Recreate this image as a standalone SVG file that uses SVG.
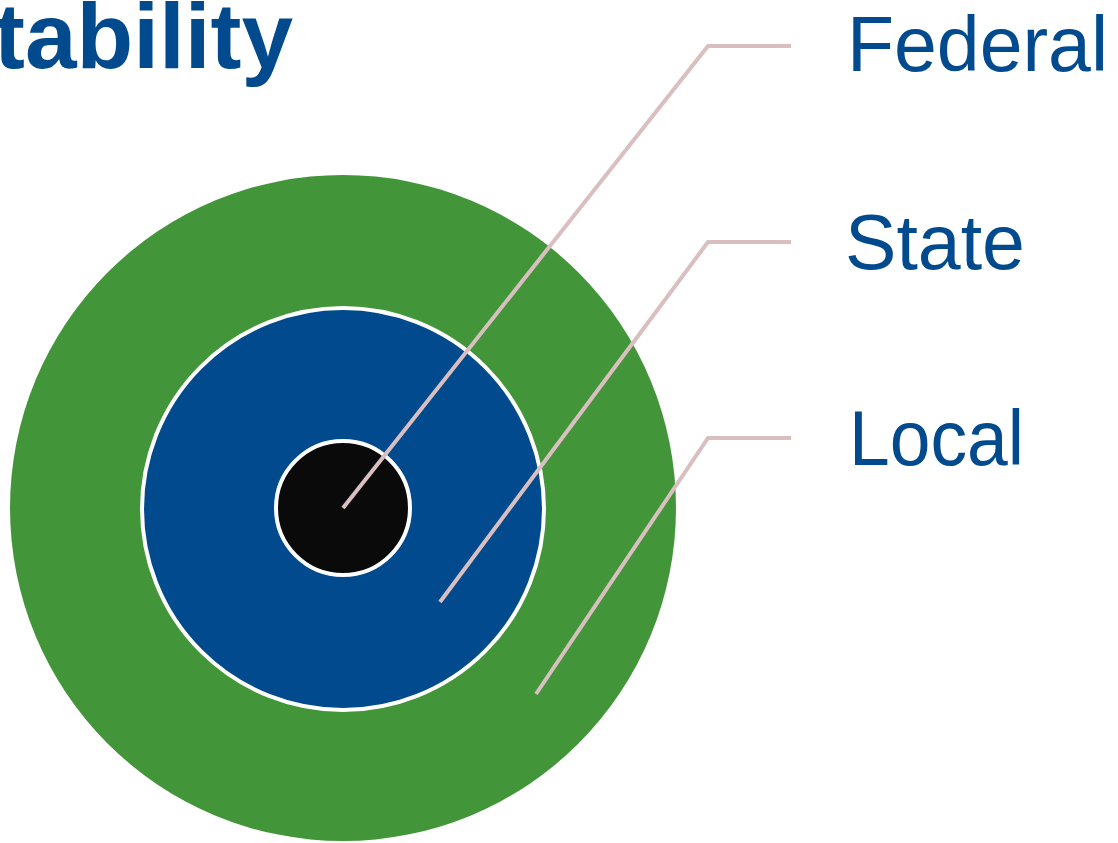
<svg xmlns="http://www.w3.org/2000/svg" width="1118" height="843" viewBox="0 0 1118 843">
<style>
.lbl{font-family:"Liberation Sans","Open Sans",sans-serif;font-size:78px;fill:#004a8d}
.title{font-family:"Liberation Sans","Open Sans",sans-serif;font-size:92px;font-weight:bold;fill:#004a8d}
.lead{fill:none;stroke:#d9bfc0;stroke-width:4;stroke-linejoin:miter}
</style>
<rect width="1118" height="843" fill="#ffffff"/>
<text class="title" x="-6" y="68" textLength="299" lengthAdjust="spacingAndGlyphs">tability</text>
<g id="local">
<circle cx="343" cy="508" r="333" fill="#43953a"/>
</g>
<g id="state">
<circle cx="343" cy="509" r="201" fill="#004a8d" stroke="#ffffff" stroke-width="4"/>
</g>
<g id="federal">
<circle cx="343" cy="508" r="67" fill="#0a0a0a" stroke="#ffffff" stroke-width="4"/>
</g>
<g id="connectors">
<polyline class="lead" points="343,508 708,46 791,46"/>
<polyline class="lead" points="440,602 708,242 791,242"/>
<polyline class="lead" points="536,694 708,438 791,438"/>
</g>
<g id="labels">
<text class="lbl" x="847" y="71" textLength="261" lengthAdjust="spacingAndGlyphs">Federal</text>
<text class="lbl" x="845" y="269" textLength="180" lengthAdjust="spacingAndGlyphs">State</text>
<text class="lbl" x="849" y="465" textLength="175" lengthAdjust="spacingAndGlyphs">Local</text>
</g>
</svg>
